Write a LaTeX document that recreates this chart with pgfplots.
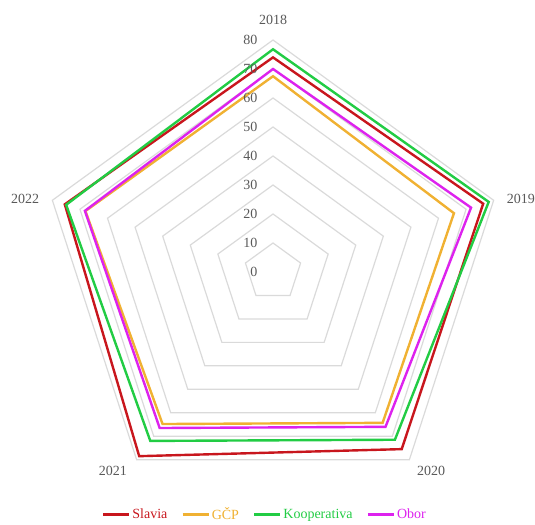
\documentclass[border=0pt]{standalone}
\usepackage{pgfplots}
\pgfplotsset{compat=1.18}
\usepackage{fontspec}
\setmainfont{Liberation Serif}
\definecolor{cslavia}{HTML}{C8161D}
\definecolor{cgcp}{HTML}{F0B132}
\definecolor{ckoop}{HTML}{22CC44}
\definecolor{cobor}{HTML}{DD22EE}
\definecolor{cgrid}{HTML}{DADADA}
\definecolor{ctext}{HTML}{595959}
\begin{document}
\begin{tikzpicture}
\begin{axis}[
  scale only axis, width=535pt, height=525pt,
  xmin=-94.14, xmax=90.34, ymin=-87.24, ymax=93.79,
  hide axis, clip=false,
  every axis plot/.append style={line join=miter},
  legend columns=4,
  legend style={draw=none, fill=none, at={(axis cs:-2.8,-83.6)}, anchor=center,
    font=\fontsize{14}{16}\selectfont, inner sep=0pt,
    /tikz/every even column/.append style={column sep=12pt},
    /tikz/every odd column/.append style={column sep=0pt}},
  legend cell align=left,
  legend image code/.code={\draw[#1,mark=none,line width=2.4pt] (0pt,0pt) -- (26pt,0pt);},
]
% grid rings
\foreach \r in {10,20,30,40,50,60,70,80} {
  \edef\tmp{\noexpand\addplot[cgrid, line width=1.2pt, data cs=polar, forget plot] coordinates {(90,\r) (18,\r) (-54,\r) (234,\r) (162,\r)} -- cycle;}
  \tmp
}
\addplot[cslavia, line width=2.4pt, data cs=polar] coordinates {(90,74) (18,76.2) (-54,75.5) (234,78.5) (162,75.5)} -- cycle;
\addlegendentry{\textcolor{cslavia}{Slavia}}
\addplot[cgcp, line width=2.4pt, data cs=polar] coordinates {(90,67.5) (18,65.6) (-54,64.3) (234,64.8) (162,68)} -- cycle;
\addlegendentry{\textcolor{cgcp}{GČP}}
\addplot[ckoop, line width=2.4pt, data cs=polar] coordinates {(90,76.8) (18,78.2) (-54,71.5) (234,72) (162,75)} -- cycle;
\addlegendentry{\textcolor{ckoop}{Kooperativa}}
\addplot[cobor, line width=2.4pt, data cs=polar] coordinates {(90,70) (18,71.8) (-54,66) (234,66.5) (162,68.2)} -- cycle;
\addlegendentry{\textcolor{cobor}{Obor}}
% radial labels
\foreach \v in {0,10,20,30,40,50,60,70,80} {
  \edef\tmp{\noexpand\node[anchor=east, inner sep=0pt, text=ctext, font=\noexpand\fontsize{14}{16}\noexpand\selectfont] at (axis cs:-5.3,\v) {\v};}
  \tmp
}
% category labels
\begin{scope}[every node/.style={text=ctext, font=\fontsize{14}{16}\selectfont, inner sep=0pt}]
\node at (axis cs:0,86.9) {2018};
\node at (axis cs:85.5,25.2) {2019};
\node at (axis cs:54.5,-68.5) {2020};
\node at (axis cs:-55.2,-68.5) {2021};
\node at (axis cs:-85.5,25.2) {2022};
\end{scope}
\end{axis}
\pgfresetboundingbox
\path (current axis.south west) rectangle (current axis.north east);
\end{tikzpicture}
\end{document}
